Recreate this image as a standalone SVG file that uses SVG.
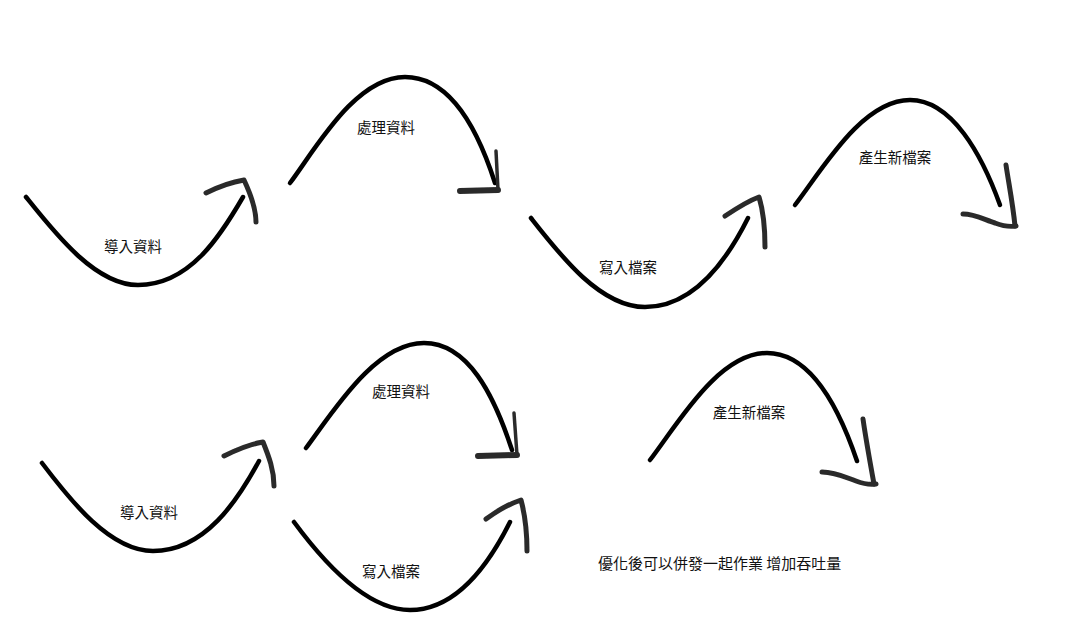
<svg xmlns="http://www.w3.org/2000/svg" width="1078" height="622" viewBox="0 0 1078 622">
<defs>
<filter id="soft" filterUnits="userSpaceOnUse" x="0" y="0" width="1078" height="622"><feGaussianBlur stdDeviation="0.7"/></filter>
</defs>
<style>
.arc{fill:none;stroke:#000;stroke-width:4.5;stroke-linecap:round;stroke-linejoin:round}
.head{fill:none;stroke:#2b2b2b;stroke-width:5;stroke-linecap:round;stroke-linejoin:round;filter:url(#soft)}
.thin{stroke-width:3.5}
.thick{stroke-width:6}
.lbl{font-family:"Noto Sans CJK TC","Noto Sans CJK SC",sans-serif;font-size:14.5px;fill:#111;text-anchor:middle}
.note{font-family:"Noto Sans CJK TC","Noto Sans CJK SC",sans-serif;font-size:15px;fill:#111}
</style>
<rect width="1078" height="622" fill="#fff"/>
<g id="connectors">
<g id="top-import">
<path class="arc" d="M26,197 C54,232 95,285 138,285 C190,285 221,235 243,197"/>
<path class="head" d="M206,193 C218,187 232,182 244,180 C251,195 256,208 256,222"/>
</g>
<g id="top-process">
<path class="arc" d="M290,183 C315,150 355,77 405,77 C450,77 478,130 495,183"/>
<path class="head thin" d="M496,151 L498,190"/>
<path class="head thick" d="M498,190 L460,191"/>
</g>
<g id="top-write">
<path class="arc" d="M531,218 C560,255 600,307 645,307 C695,307 728,258 748,218"/>
<path class="head" d="M725,216 C737,208 748,201 759,197 C763,210 765,225 765,247"/>
</g>
<g id="top-newfile">
<path class="arc" d="M795,205 C822,170 862,100 910,100 C952,100 982,155 1000,205"/>
<path class="head" d="M1006,165 C1009,185 1013,205 1015,226"/>
<path class="head" d="M963,214 C975,214 985,220 995,223 C1003,226 1010,227 1016,226"/>
</g>
<g id="bottom-import">
<path class="arc" d="M42,463 C70,500 110,551 153,551 C205,551 238,500 259,461"/>
<path class="head" d="M224,456 C236,450 250,444 263,442 C269,457 274,470 274,486"/>
</g>
<g id="bottom-process">
<path class="arc" d="M306,448 C333,412 375,343 424,343 C468,343 494,395 512,450"/>
<path class="head thin" d="M514,413 L517,455"/>
<path class="head thick" d="M517,455 L478,456"/>
</g>
<g id="bottom-write">
<path class="arc" d="M294,522 C322,560 365,610 410,610 C458,610 490,562 510,522"/>
<path class="head" d="M486,519 C497,511 509,504 521,500 C525,515 527,530 527,551"/>
</g>
<g id="bottom-newfile">
<path class="arc" d="M650,460 C677,425 718,353 767,353 C810,353 838,405 857,461"/>
<path class="head" d="M863,419 C866,440 870,462 874,484"/>
<path class="head" d="M822,472 C835,472 845,477 856,481 C864,484 870,485 876,484"/>
</g>
</g>
<g id="labels">
<text id="t1" class="lbl" x="133" y="252">導入資料</text>
<text id="t2" class="lbl" x="386" y="133">處理資料</text>
<text id="t3" class="lbl" x="628" y="273">寫入檔案</text>
<text id="t4" class="lbl" x="895" y="163">產生新檔案</text>
<text id="t5" class="lbl" x="149" y="518">導入資料</text>
<text id="t6" class="lbl" x="401" y="397">處理資料</text>
<text id="t7" class="lbl" x="391" y="577">寫入檔案</text>
<text id="t8" class="lbl" x="749" y="418">產生新檔案</text>
<text id="note" class="note" x="598" y="569">優化後可以併發一起作業 增加吞吐量</text>
</g>
</svg>
